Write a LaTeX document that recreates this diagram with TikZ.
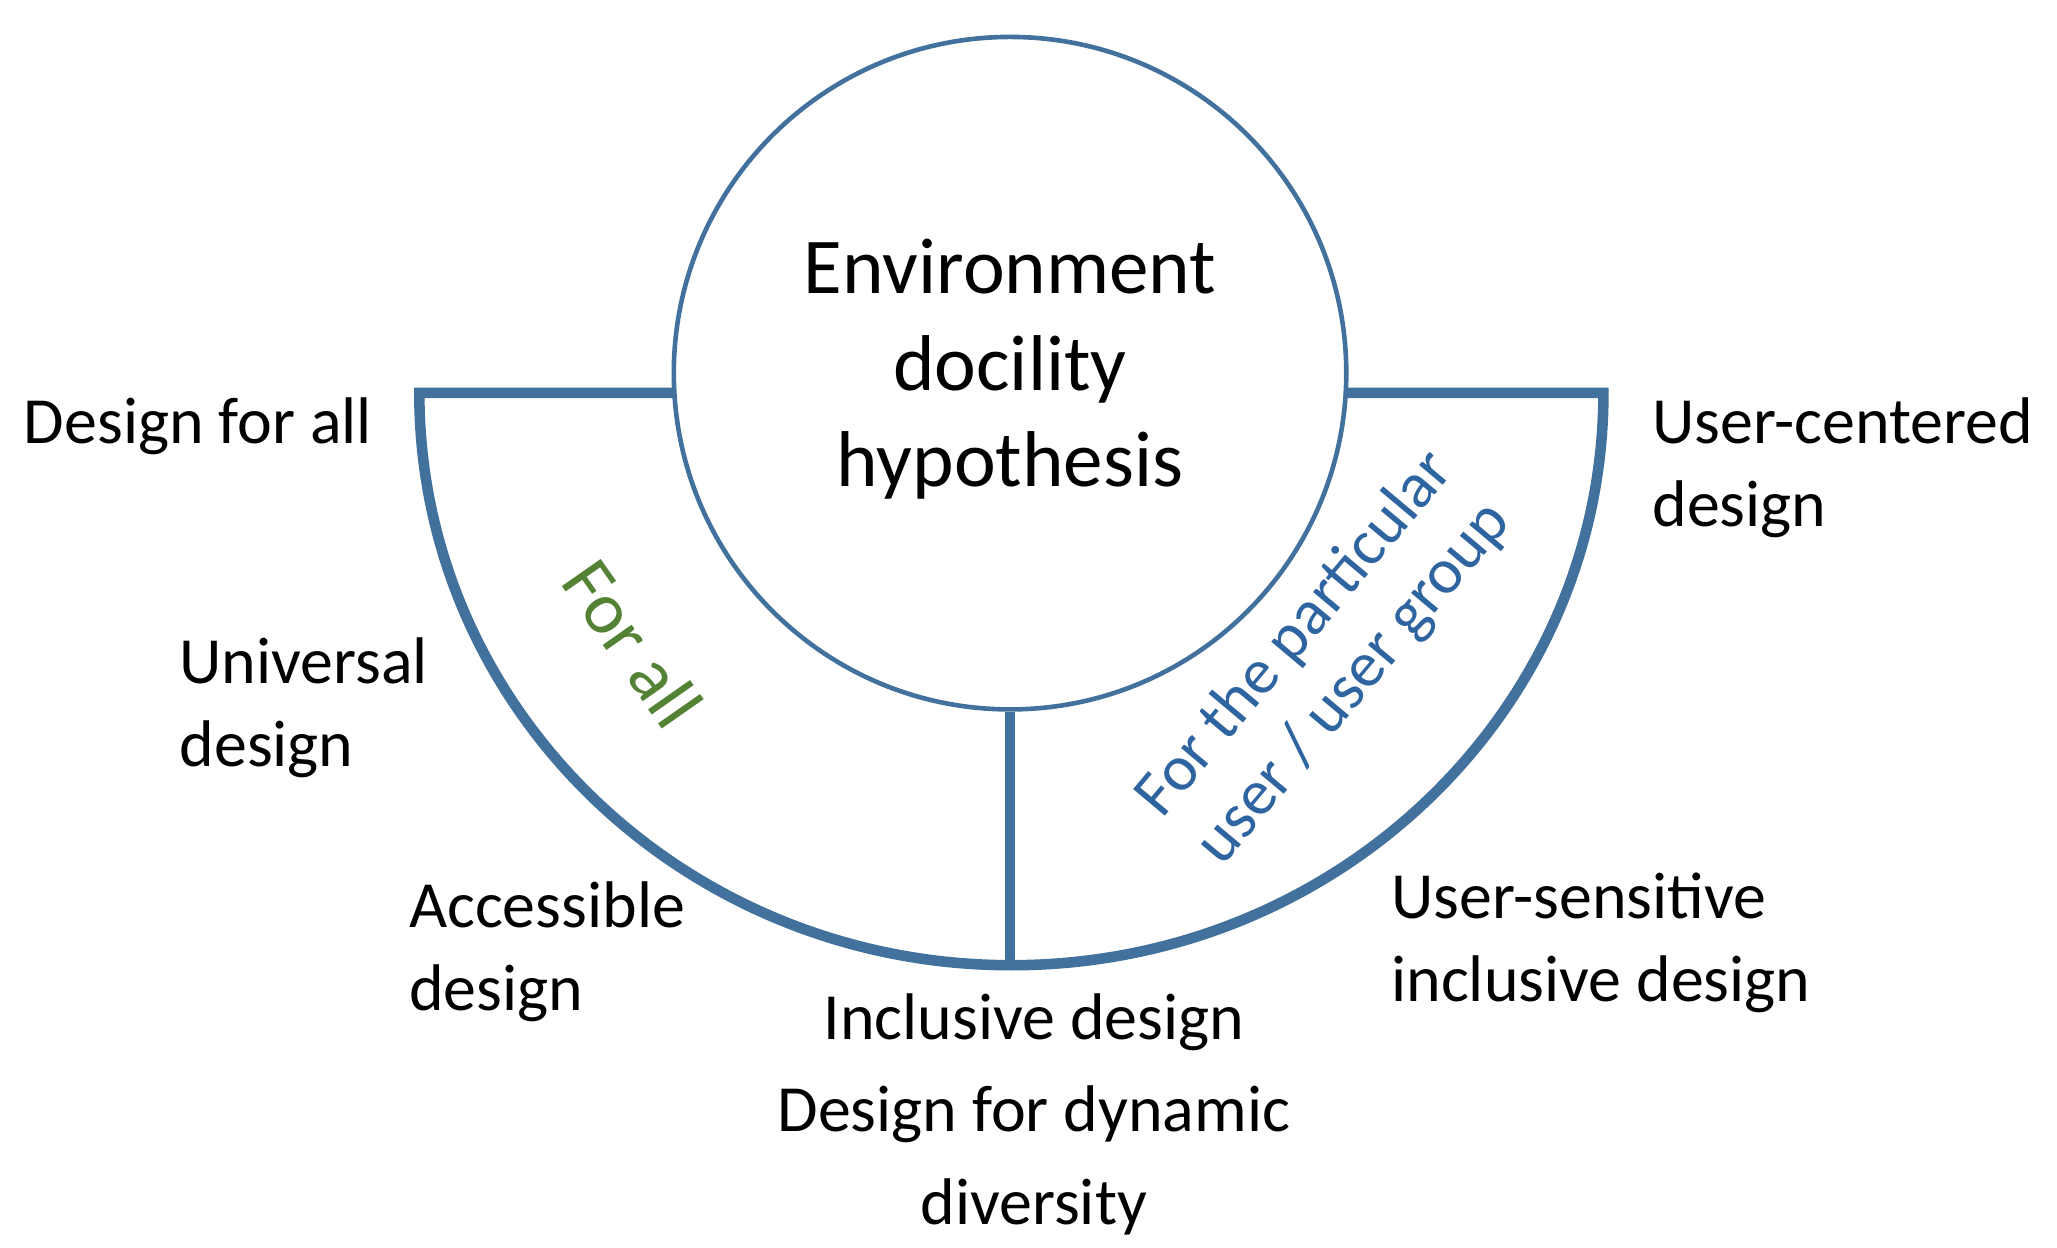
\documentclass[tikz,border=0pt]{standalone}
\usepackage{fontspec}
\setmainfont{Carlito}
\definecolor{bl}{RGB}{65,113,156}
\definecolor{gr}{RGB}{84,130,53}
\definecolor{tb}{RGB}{46,100,160}
\begin{document}
\begin{tikzpicture}[x=1pt,y=-1pt,
  lab/.style={font=\fontsize{50}{63}\selectfont,align=left,inner sep=0pt},
  labc/.style={font=\fontsize{50}{70}\selectfont,align=center,inner sep=0pt}]
\useasboundingbox (0,0) rectangle (1560,946);
\draw[bl,line width=8pt] (511,298) -- (318,298) arc[start angle=180,end angle=0,x radius=449,y radius=434] -- (1020,298);
\draw[bl,line width=7pt] (766,540) -- (766,732);
\node[circle,draw=bl,line width=3.5pt,fill=white,minimum size=510pt,inner sep=0pt] (c) at (766,283) {};
\node[labc,font=\fontsize{60}{73}\selectfont] (t) at (766,280) {Environment\\docility\\hypothesis};
\node[lab,anchor=west] (a) at (18,323) {Design for all};
\node[lab,anchor=west] (b) at (136,537) {Universal\\design};
\node[lab,anchor=west] (d) at (310,722) {Accessible\\design};
\node[labc] (e) at (784,845) {Inclusive design\\Design for dynamic\\diversity};
\node[lab,anchor=west] (f) at (1253,355) {User-centered\\design};
\node[lab,anchor=west] (g) at (1055,715) {User-sensitive\\inclusive design};
\node[labc,text=gr,rotate=-55,font=\fontsize{56}{60}\selectfont] (h) at (480,488) {For all};
\node[labc,text=tb,rotate=50,font=\fontsize{49}{58}\selectfont] (i) at (1005,500) {For the particular\\user / user group};
\end{tikzpicture}
\end{document}
